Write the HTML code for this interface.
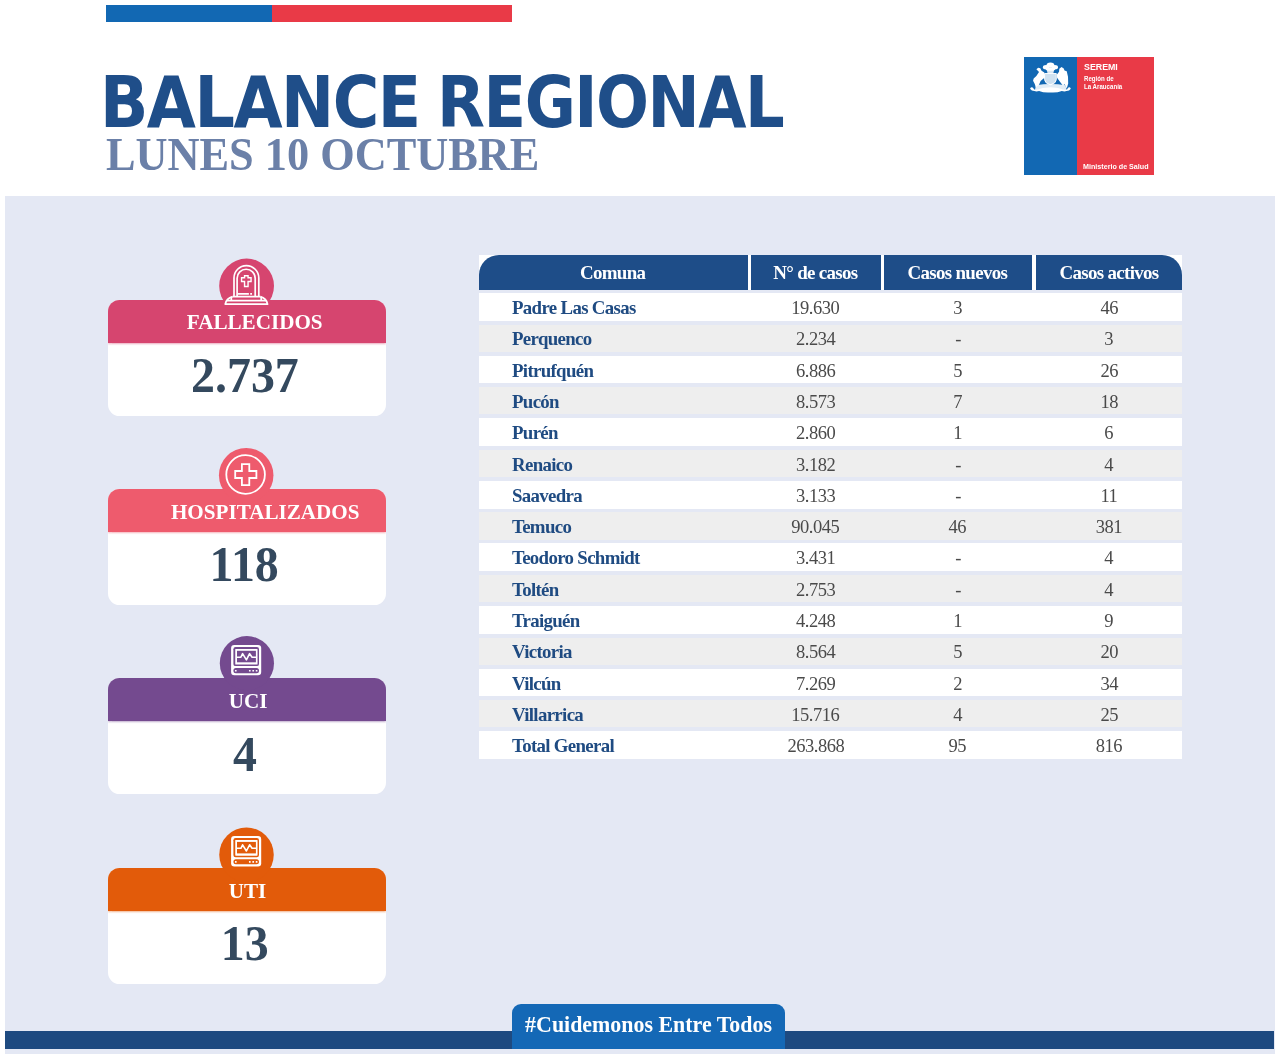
<!DOCTYPE html><html lang="es"><head><meta charset="utf-8"><title>Balance Regional</title><style>
*{margin:0;padding:0;box-sizing:border-box}
html,body{width:1280px;height:1059px;background:#fff;overflow:hidden}
body{position:relative;font-family:"Liberation Serif",serif}
.abs{position:absolute}
.sx{display:inline-block;white-space:nowrap}
.stripe-b{left:106px;top:5px;width:167px;height:17px;background:#1268b3}
.stripe-r{left:272px;top:5px;width:240px;height:17px;background:#e93a47}
.title{top:61px;font-family:"DejaVu Sans Condensed","DejaVu Sans","Liberation Sans",sans-serif;font-stretch:condensed;font-weight:700;font-size:71.3px;line-height:83px;color:#1f4e89;white-space:nowrap;transform-origin:0 0;letter-spacing:-1.5px}
.sub{left:106.4px;top:127px;font-weight:700;font-size:46.5px;line-height:56px;color:#6b80a8;white-space:nowrap;transform-origin:0 0;transform:scaleX(0.953)}
.logo{left:1024px;top:57.2px;width:130.4px;height:117.5px;background:#e93a47}
.logo .b{position:absolute;left:0;top:0;width:53px;height:117.5px;background:#1268b3}
.logo .t{position:absolute;transform-origin:0 0;color:#fff;font-family:"Liberation Sans",sans-serif;font-weight:700;white-space:nowrap}
.panel{left:5px;top:196px;width:1270px;height:858px;background:#e4e8f4}
.bar{left:5px;top:1031px;width:1269px;height:18px;background:#1e4a80}
.tag{left:512px;top:1004px;width:273px;height:45px;background:#1468b6;border-radius:9px 9px 0 0;color:#fff;font-weight:700;font-size:23px;line-height:42px;text-align:center;white-space:nowrap}
.tag .sx{transform:scaleX(0.953)}
.card{left:108px;width:278px;height:116px;border-radius:11.5px;background:#fff;overflow:hidden}
.card .h{position:absolute;left:0;top:0;width:100%;height:43px;color:#fff;font-weight:700;font-size:22px;line-height:44px;text-align:center;white-space:nowrap}
.card .h .sx{transform:scaleX(0.96)}
.card .n{position:absolute;left:-2.5px;top:42px;width:100%;height:74px;color:#34495e;font-weight:700;font-size:51.5px;line-height:66px;text-align:center}
.card .n .sx{transform:scaleX(0.93)}
.circ{left:219px;width:54px;height:54px;border-radius:50%}
.circ svg{position:absolute;left:0;top:0}
.tbl{left:478.5px;top:255px;width:703.7px;height:505px}
.th{position:absolute;top:0;height:35px;background:#1e4d88;color:#fff;font-weight:700;font-size:19.5px;letter-spacing:-0.7px;line-height:35px;text-align:center;white-space:nowrap}
.th .sx{transform:scaleX(0.972)}
.hw{position:absolute;left:0;top:0;width:703.7px;height:35px;background:#fff}
.tr{position:absolute;left:0;width:703.7px;height:28.2px;font-size:19.5px;line-height:29px;color:#4a4a4a;white-space:nowrap}
.tr.o{background:#fff;height:27.9px}.tr.e{background:#eee;margin-top:.4px;height:27.2px}.tr.e>span{top:-.4px}
.tr>span{position:absolute;top:0;text-align:center}
.tr .sx{transform:scaleX(0.95);letter-spacing:-0.5px}
.tr .c1{left:33px;text-align:left;font-weight:700;color:#1f4b82}
.tr .c1 .sx{transform-origin:0 50%;transform:scaleX(0.967);letter-spacing:-0.7px}
.tr .c2{left:272px;width:130px}
.tr .c3{left:405px;width:148px}
.tr .c4{left:557px;width:146.7px}
</style></head><body>
<div class="abs stripe-b"></div><div class="abs stripe-r"></div>
<div class="abs title" style="left:100px;transform:scaleX(0.989)">BALANCE</div>
<div class="abs title" style="left:436.6px;transform:scaleX(0.9716)">REGIONAL</div>
<div class="abs sub">LUNES 10 OCTUBRE</div>
<div class="abs logo"><div class="b"></div><div class="t" style="left:59.5px;top:2.6px;font-size:9.8px;line-height:14px;transform:scaleX(0.90)">SEREMI</div><div class="t" style="left:59.5px;top:18.1px;font-size:7px;line-height:7.8px;transform:scaleX(0.875)">Región de<br>La Araucanía</div><div class="t" style="left:58.7px;top:104.8px;font-size:7.3px;line-height:10px;transform:scaleX(0.98)">Ministerio de Salud</div></div>
<svg class="abs" style="left:1024px;top:57px" width="56" height="45" viewBox="0 0 1186 953"><g fill="#fff"><ellipse cx="560" cy="172" rx="82" ry="56"/><ellipse cx="468" cy="215" rx="68" ry="46"/><ellipse cx="652" cy="215" rx="68" ry="46"/><ellipse cx="560" cy="255" rx="105" ry="38"/><path d="M480 270 H640 L620 350 H500 Z" fill-opacity="0.85"/><path d="M262 262 L300 228 L345 240 L372 292 L430 330 L446 430 L352 510 L318 590 L250 640 L228 570 L192 505 L205 455 L262 400 L318 318 Z"/><path d="M436 350 H684 V480 Q684 555 560 588 Q436 555 436 480 Z" fill-opacity="0.8" stroke="#fff" stroke-width="20"/><path d="M748 250 L795 212 L842 245 L858 285 L905 300 L932 420 L936 560 L905 665 L862 575 L822 605 L762 525 L700 440 L698 372 L742 312 Z"/><path d="M255 600 Q560 545 880 600 L900 705 Q560 660 230 705 Z" fill-opacity="0.88"/><path d="M128 672 Q150 628 192 650 Q205 692 245 698 Q400 640 560 640 Q720 640 878 698 Q925 692 932 650 Q972 628 992 672 Q962 722 900 722 Q860 742 800 722 Q700 762 560 752 Q420 762 320 722 Q260 742 220 722 Q160 722 128 672 Z"/></g></svg>
<div class="abs panel"></div>
<div class="abs card" style="top:300px"><div class="h" style="background:#d6456f;box-shadow:0 1.5px 1.5px #d6456f55"><span class="sx" style="position:relative;left:7.5px;top:0px">FALLECIDOS</span></div><div class="n" style="top:42px"><span class="sx">2.737</span></div></div>
<div class="abs card" style="top:488.8px"><div class="h" style="background:#ee5b6d;box-shadow:0 1.5px 1.5px #ee5b6d55"><span class="sx" style="position:relative;left:18.5px;top:1.5px">HOSPITALIZADOS</span></div><div class="n" style="top:42.3px"><span class="sx">118</span></div></div>
<div class="abs card" style="top:678px"><div class="h" style="background:#744a8f;box-shadow:0 1.5px 1.5px #744a8f55"><span class="sx" style="position:relative;left:1.0px;top:1.3px">UCI</span></div><div class="n" style="top:43px"><span class="sx">4</span></div></div>
<div class="abs card" style="top:867.8px"><div class="h" style="background:#e25b0a;box-shadow:0 1.5px 1.5px #e25b0a55"><span class="sx" style="position:relative;left:0.5px;top:1.3px">UTI</span></div><div class="n" style="top:42.5px"><span class="sx">13</span></div></div>
<svg class="abs" style="left:200px;top:240px;overflow:visible" width="100" height="640" viewBox="200 240 100 640"><circle cx="246.6" cy="286" r="27.4" fill="#d6456f"/><circle cx="246.2" cy="475.2" r="27.25" fill="#ee5b6d"/><circle cx="246.9" cy="663.2" r="27.1" fill="#744a8f"/><circle cx="246.5" cy="854.7" r="27.25" fill="#e25b0a"/><g fill="none" stroke="#fff" stroke-width="1.7" stroke-linejoin="round" stroke-linecap="butt"><path d="M234 296.5V278a12.4 12.4 0 0 1 24.8 0V296.5"/><path d="M237.1 296.5V278.3a9.05 9.05 0 0 1 18.1 0V296.5"/><path d="M238 293.8H248.9M250.2 293.8h1.8"/><path d="M244.55 275.7h3.5v2.1h3v3.7h-3v5h-3.5v-5h-3v-3.7h3z" stroke-width="1.4" stroke-linejoin="miter"/><path d="M232.7 296.7H260.3M226.8 300.6H266M231.3 296.7V300.6M261.2 296.7V300.6"/><path d="M232.7 296.7Q226.3 298.3 225.3 304.2H267.5Q266.5 298.3 260.3 296.7" stroke-width="1.8"/></g><circle cx="245.6" cy="474.5" r="19.3" fill="none" stroke="#fff" stroke-width="1.8"/><path d="M241.9 464.2h7.4v6.8h7.1v7h-7.1v7.1h-7.4v-7.1h-6.7v-7h6.7z" fill="none" stroke="#fff" stroke-width="1.8" stroke-linejoin="miter"/><g transform="translate(0,0)"><rect x="231.1" y="644.9" width="30.1" height="30.4" rx="3.2" fill="#fff"/><rect x="233.4" y="647" width="25.6" height="19.1" rx="2.2" fill="#744a8f"/><rect x="235.25" y="648.9" width="22.3" height="15.7" rx="0.6" fill="#fff"/><rect x="237" y="650.8" width="18.9" height="11.5" fill="#744a8f"/><polyline points="236.8,657.2 240.9,657.2 242.6,653.7 246.4,659.9 249.6,653.7 252.1,657.2 256.2,657.2" fill="none" stroke="#fff" stroke-width="1.6" stroke-linejoin="round"/><rect x="233.4" y="668.1" width="25.6" height="5.1" rx="2.5" fill="#744a8f"/><rect x="234.95000000000002" y="669.9" width="1.7" height="1.7" rx="0.3" fill="#fff"/><rect x="248.95000000000002" y="669.9" width="1.7" height="1.7" rx="0.3" fill="#fff"/><rect x="252.35" y="669.9" width="1.7" height="1.7" rx="0.3" fill="#fff"/><rect x="255.75000000000003" y="669.9" width="1.7" height="1.7" rx="0.3" fill="#fff"/></g><g transform="translate(0,191.1)"><rect x="231.1" y="644.9" width="30.1" height="30.4" rx="3.2" fill="#fff"/><rect x="233.4" y="647" width="25.6" height="19.1" rx="2.2" fill="#e25b0a"/><rect x="235.25" y="648.9" width="22.3" height="15.7" rx="0.6" fill="#fff"/><rect x="237" y="650.8" width="18.9" height="11.5" fill="#e25b0a"/><polyline points="236.8,657.2 240.9,657.2 242.6,653.7 246.4,659.9 249.6,653.7 252.1,657.2 256.2,657.2" fill="none" stroke="#fff" stroke-width="1.6" stroke-linejoin="round"/><rect x="233.4" y="668.1" width="25.6" height="5.1" rx="2.5" fill="#e25b0a"/><rect x="234.95000000000002" y="669.9" width="1.7" height="1.7" rx="0.3" fill="#fff"/><rect x="248.95000000000002" y="669.9" width="1.7" height="1.7" rx="0.3" fill="#fff"/><rect x="252.35" y="669.9" width="1.7" height="1.7" rx="0.3" fill="#fff"/><rect x="255.75000000000003" y="669.9" width="1.7" height="1.7" rx="0.3" fill="#fff"/></g></svg>
<div class="abs tbl"><div class="hw"></div>
<div class="th" style="left:0px;width:269px;border-top-left-radius:20px"><span class="sx">Comuna</span></div>
<div class="th" style="left:272px;width:130px;"><span class="sx">N° de casos</span></div>
<div class="th" style="left:405px;width:148px;"><span class="sx">Casos nuevos</span></div>
<div class="th" style="left:557px;width:146.7px;border-top-right-radius:20px"><span class="sx">Casos activos</span></div>
<div class="tr o" style="top:38.0px"><span class="c1"><span class="sx">Padre Las Casas</span></span><span class="c2"><span class="sx">19.630</span></span><span class="c3"><span class="sx">3</span></span><span class="c4"><span class="sx">46</span></span></div>
<div class="tr e" style="top:69.3px"><span class="c1"><span class="sx">Perquenco</span></span><span class="c2"><span class="sx">2.234</span></span><span class="c3"><span class="sx">-</span></span><span class="c4"><span class="sx">3</span></span></div>
<div class="tr o" style="top:100.6px"><span class="c1"><span class="sx">Pitrufquén</span></span><span class="c2"><span class="sx">6.886</span></span><span class="c3"><span class="sx">5</span></span><span class="c4"><span class="sx">26</span></span></div>
<div class="tr e" style="top:131.9px"><span class="c1"><span class="sx">Pucón</span></span><span class="c2"><span class="sx">8.573</span></span><span class="c3"><span class="sx">7</span></span><span class="c4"><span class="sx">18</span></span></div>
<div class="tr o" style="top:163.2px"><span class="c1"><span class="sx">Purén</span></span><span class="c2"><span class="sx">2.860</span></span><span class="c3"><span class="sx">1</span></span><span class="c4"><span class="sx">6</span></span></div>
<div class="tr e" style="top:194.5px"><span class="c1"><span class="sx">Renaico</span></span><span class="c2"><span class="sx">3.182</span></span><span class="c3"><span class="sx">-</span></span><span class="c4"><span class="sx">4</span></span></div>
<div class="tr o" style="top:225.8px"><span class="c1"><span class="sx">Saavedra</span></span><span class="c2"><span class="sx">3.133</span></span><span class="c3"><span class="sx">-</span></span><span class="c4"><span class="sx">11</span></span></div>
<div class="tr e" style="top:257.1px"><span class="c1"><span class="sx">Temuco</span></span><span class="c2"><span class="sx">90.045</span></span><span class="c3"><span class="sx">46</span></span><span class="c4"><span class="sx">381</span></span></div>
<div class="tr o" style="top:288.4px"><span class="c1"><span class="sx">Teodoro Schmidt</span></span><span class="c2"><span class="sx">3.431</span></span><span class="c3"><span class="sx">-</span></span><span class="c4"><span class="sx">4</span></span></div>
<div class="tr e" style="top:319.7px"><span class="c1"><span class="sx">Toltén</span></span><span class="c2"><span class="sx">2.753</span></span><span class="c3"><span class="sx">-</span></span><span class="c4"><span class="sx">4</span></span></div>
<div class="tr o" style="top:351.0px"><span class="c1"><span class="sx">Traiguén</span></span><span class="c2"><span class="sx">4.248</span></span><span class="c3"><span class="sx">1</span></span><span class="c4"><span class="sx">9</span></span></div>
<div class="tr e" style="top:382.3px"><span class="c1"><span class="sx">Victoria</span></span><span class="c2"><span class="sx">8.564</span></span><span class="c3"><span class="sx">5</span></span><span class="c4"><span class="sx">20</span></span></div>
<div class="tr o" style="top:413.6px"><span class="c1"><span class="sx">Vilcún</span></span><span class="c2"><span class="sx">7.269</span></span><span class="c3"><span class="sx">2</span></span><span class="c4"><span class="sx">34</span></span></div>
<div class="tr e" style="top:444.9px"><span class="c1"><span class="sx">Villarrica</span></span><span class="c2"><span class="sx">15.716</span></span><span class="c3"><span class="sx">4</span></span><span class="c4"><span class="sx">25</span></span></div>
<div class="tr o" style="top:476.2px"><span class="c1"><span class="sx">Total General</span></span><span class="c2"><span class="sx">263.868</span></span><span class="c3"><span class="sx">95</span></span><span class="c4"><span class="sx">816</span></span></div>
</div>
<div class="abs bar"></div><div class="abs tag"><span class="sx">#Cuidemonos Entre Todos</span></div>
</body></html>
